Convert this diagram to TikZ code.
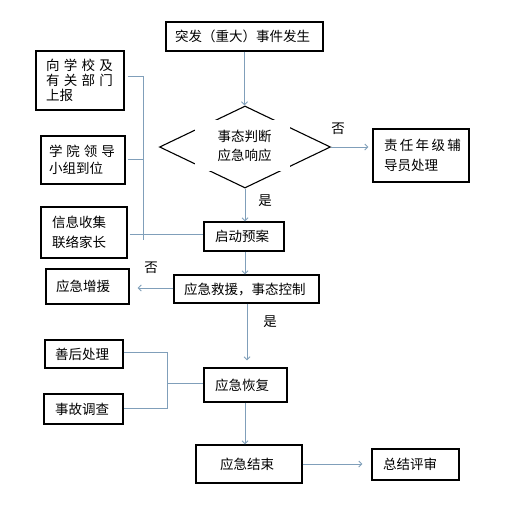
\documentclass[tikz,border=0pt]{standalone}
\usepackage{fontspec}
\setmainfont{Noto Sans CJK SC}
\usetikzlibrary{shapes.geometric,arrows.meta}
\definecolor{conn}{HTML}{809FBA}
\tikzset{
  box/.style={draw=black, line width=1.1pt, rectangle, align=left, inner ysep=0pt, font=\fontsize{13.5pt}{17pt}\selectfont},
  conline/.style={draw=conn, line width=1pt},
  arr/.style={conline, -{Straight Barb[length=3pt,width=6pt]}},
  lbl/.style={font=\fontsize{13.5pt}{16pt}\selectfont, inner sep=0pt}
}
\newcommand{\spread}[2]{\makebox[#1][s]{#2}}
\begin{document}
\begin{tikzpicture}[x=1pt,y=-1pt]
\useasboundingbox[fill=white] (0,0) rectangle (519,509);
% boxes (centre, width, height, left padding)
\node[box, minimum width=157pt, minimum height=29pt, inner xsep=9pt, text width=139pt] (top) at (244.5,36.5) {突发（重大）事件发生};
\node[box, minimum width=88pt, minimum height=59pt, inner xsep=10pt, text width=68pt, font=\fontsize{13.5pt}{15pt}\selectfont] (report) at (80,80.5) {\spread{67pt}{向\hfill 学\hfill 校\hfill 及}\\\spread{67pt}{有\hfill 关\hfill 部\hfill 门}\\上报};
\node[box, minimum width=84pt, minimum height=48pt, inner xsep=8pt, text width=68pt, font=\fontsize{13.5pt}{16.5pt}\selectfont] (leader) at (83,160) {\spread{66pt}{学\hfill 院\hfill 领\hfill 导}\\小组到位};
\node[box, minimum width=86pt, minimum height=51pt, inner xsep=11pt, text width=64pt, font=\fontsize{13.5pt}{20pt}\selectfont] (info) at (84,232.5) {信息收集\\联络家长};
\node[draw=black, line width=1.1pt, diamond, minimum width=171pt, minimum height=82pt, inner sep=0pt] (diamond) at (245,147) {};
\node[fill=white, minimum width=95pt, minimum height=51pt, inner sep=0pt, align=center, font=\fontsize{13.5pt}{19pt}\selectfont] (dtext) at (242.5,145.5) {\hspace*{4pt}事态判断\\\hspace*{4pt}应急响应};
\node[box, minimum width=96pt, minimum height=53pt, inner xsep=11pt, text width=74pt, font=\fontsize{13.5pt}{20pt}\selectfont] (duty) at (421,155.5) {\spread{77pt}{责\hfill 任\hfill 年\hfill 级\hfill 辅}\\导员处理};
\node[box, minimum width=80pt, minimum height=29pt, inner xsep=11pt, text width=58pt] (start) at (244,236.5) {启动预案};
\node[box, minimum width=145pt, minimum height=28pt, inner xsep=10pt, text width=125pt] (rescue) at (246.5,289) {应急救援，事态控制};
\node[box, minimum width=83pt, minimum height=35pt, inner xsep=10pt, text width=63pt] (reinforce) at (87.5,286.5) {应急增援};
\node[box, minimum width=78pt, minimum height=28pt, inner xsep=10pt, text width=58pt] (after) at (84,354) {善后处理};
\node[box, minimum width=79pt, minimum height=30pt, inner xsep=11pt, text width=57pt] (invest) at (83.5,409) {事故调查};
\node[box, minimum width=83pt, minimum height=34pt, inner xsep=11pt, text width=61pt] (recover) at (245.5,385) {应急恢复};
\node[box, minimum width=106pt, minimum height=38pt, inner xsep=24pt, text width=58pt] (end) at (249,464) {应急结束};
\node[box, minimum width=87pt, minimum height=31pt, inner xsep=11pt, text width=65pt] (summary) at (415.5,464.5) {总结评审};
% labels
\node[lbl] (no1) at (338,129) {否};
\node[lbl] (yes1) at (265,201) {是};
\node[lbl] (no2) at (151,268) {否};
\node[lbl] (yes2) at (270,322) {是};
% junction coordinates
\coordinate (jtop) at (143,76);
\coordinate (jmid) at (143,234);
\coordinate (jbot) at (143,240);
\coordinate (b1) at (167,352);
\coordinate (b2) at (167,408);
\coordinate (b3) at (167,383);
% main flow
\draw[arr] (top.south) -- (top.south |- diamond.north);
\draw[arr, shorten >=4pt] (diamond.east) -- (diamond.east -| duty.west);
\draw[arr] (diamond.south) -- (diamond.south |- start.north);
\draw[arr] (start.south -| diamond.south) -- (diamond.south |- rescue.north);
\draw[arr, shorten >=8pt] (rescue.west |- 0,288) -- (reinforce.east |- 0,288);
\draw[arr, shorten >=7pt] (rescue.south -| 247,0) -- (recover.north -| 247,0);
\draw[arr] (recover.south -| 245,0) -- (end.north -| 245,0);
\draw[arr, shorten >=9pt] (end.east) -- (end.east -| summary.west);
% left bracket 1
\draw[conline, shorten <=3pt] (report.east |- jtop) -- (jtop) -- (jbot);
\draw[conline, shorten <=2pt] (leader.east |- 0,159) -- (jtop |- 0,159);
\draw[conline, shorten <=2pt] (info.east |- jmid) -- (start.west |- jmid);
% left bracket 2
\draw[conline] (after.east |- b1) -- (b1) -- (b2) -- (invest.east |- b2);
\draw[conline] (b3) -- (recover.west |- b3);
\end{tikzpicture}
\end{document}
